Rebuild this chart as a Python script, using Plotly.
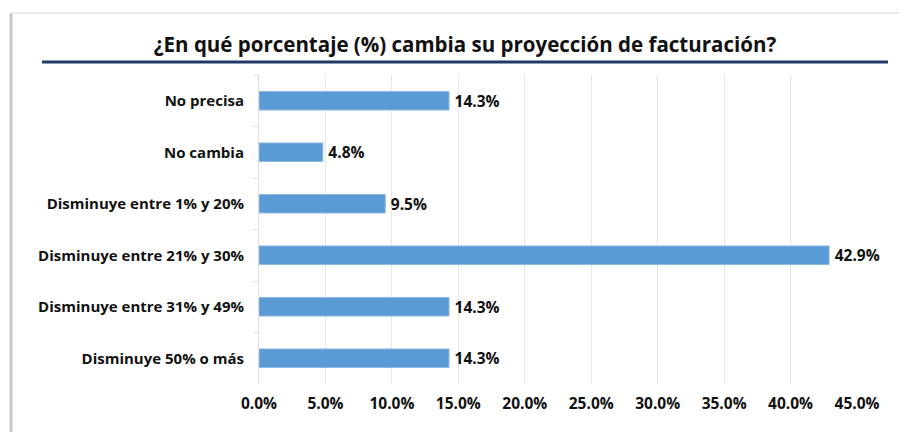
import plotly.graph_objects as go

categories = ["No precisa", "No cambia", "Disminuye entre 1% y 20%",
              "Disminuye entre 21% y 30%", "Disminuye entre 31% y 49%",
              "Disminuye 50% o más"]
values = [14.3, 4.8, 9.5, 42.9, 14.3, 14.3]
tick_vals = [0, 5, 10, 15, 20, 25, 30, 35, 40, 45]
tick_text = ["0.0%", "5.0%", "10.0%", "15.0%", "20.0%", "25.0%", "30.0%", "35.0%", "40.0%", "45.0%"]
title_text = "¿En qué porcentaje (%) cambia su proyección de facturación?"

W, H = 907, 432
OFF = 8  # page body margin
# plot area in page pixel coordinates
PL, PR, PT, PB = 259, 857, 75, 384
L = PL - OFF
T = PT - OFF
R = W - (PR - OFF)
B = H - (PB - OFF)
pw, ph = PR - PL, PB - PT

def px(x):
    return (x - PL) / pw

def py(y):
    return (PB - y) / ph

FONT = "Open Sans"

fig = go.Figure(go.Bar(
    y=categories, x=values, orientation="h",
    marker=dict(color="#5B9BD5", line=dict(color="#8DB8E3", width=1)),
    width=0.36,
    texttemplate="\u2009%{x:.1f}%", textposition="outside",
    constraintext="none",
    textfont=dict(family=FONT, size=15.5, color="#111111", weight="bold"),
    cliponaxis=False,
))

fig.update_layout(
    width=W, height=H,
    margin=dict(l=L, r=R, t=T, b=B),
    plot_bgcolor="white", paper_bgcolor="white",
    showlegend=False,
    title=dict(text=title_text, x=(465 - OFF) / W, xanchor="center", xref="container",
               y=1 - (45 - OFF) / H, yanchor="middle", yref="container",
               font=dict(family=FONT, size=20.5, color="#111111", weight="bold")),
    xaxis=dict(range=[0, 45], tickvals=tick_vals, ticktext=tick_text,
               showgrid=True, gridcolor="#E6E6E6", gridwidth=1, zeroline=False,
               showline=False, ticks="", ticklabelstandoff=8,
               tickfont=dict(family=FONT, size=15.5, color="#111111", weight="bold")),
    yaxis=dict(autorange="reversed", showgrid=False, showline=True,
               linecolor="#E0E0E0", linewidth=1, ticks="outside", ticklen=5,
               tickcolor="#E0E0E0", tickson="boundaries", ticklabelstandoff=11,
               tickfont=dict(family=FONT, size=15, color="#111111", weight="bold")),
    bargap=0.64,
)

# divider line under title
fig.add_shape(type="line", xref="paper", yref="paper",
              x0=px(42), x1=px(888), y0=py(62), y1=py(62),
              line=dict(color="#1F3864", width=3))
# card shadow border
fig.add_shape(type="line", xref="paper", yref="paper",
              x0=px(11), x1=px(11), y0=py(13), y1=py(440),
              line=dict(color="#C8C8C8", width=3))
fig.add_shape(type="line", xref="paper", yref="paper",
              x0=px(11), x1=px(920), y0=py(13), y1=py(13),
              line=dict(color="#EBEBEB", width=2))

fig.write_html("out.html")
